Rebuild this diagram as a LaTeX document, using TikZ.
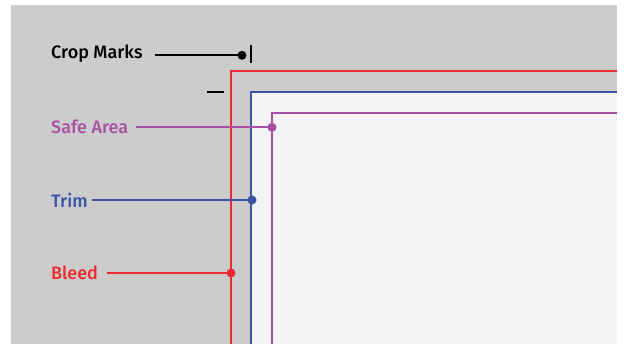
\documentclass[tikz,border=0pt]{standalone}
\usepackage{fontspec}
\setmainfont{Fira Sans}[BoldFont={Fira Sans Medium}]
\definecolor{bgray}{HTML}{CCCCCC}
\definecolor{pagec}{HTML}{F3F3F3}
\definecolor{bleedc}{HTML}{EE2A30}
\definecolor{trimc}{HTML}{3C54A6}
\definecolor{safec}{HTML}{A94FA4}
\tikzset{
  lbl/.style={anchor=west, inner sep=0pt, font=\fontsize{18}{18}\selectfont\bfseries},
  dotc/.style={circle, inner sep=0pt, minimum size=9pt},
  lead/.style={line width=1.7pt},
}
\begin{document}
\begin{tikzpicture}[x=1pt,y=-1pt]
\useasboundingbox (0,0) rectangle (624,344);
\fill[white] (0,0) rectangle (624,344);
\fill[bgray] (11,5) rectangle (617,344);
% page (trim area)
\fill[pagec] (251.3,92.3) rectangle (617,344);
% bleed, trim, safe lines
\draw[draw=bleedc, line width=2pt] (231,344) -- (231,71.3) -- (617,71.3);
\draw[draw=trimc, line width=2pt] (251.3,344) -- (251.3,92.3) -- (617,92.3);
\draw[draw=safec, line width=2pt] (272,344) -- (272,112.7) -- (617,112.7);
% crop marks
\draw[draw=black, line width=1.8pt] (251.3,45) -- (251.3,63);
\draw[draw=black, line width=1.8pt] (207,92.3) -- (224,92.3);
% labels
\node[lbl, text=black] (crop) at (51,54) {Crop Marks};
\node[lbl, text=safec] (safe) at (51,126.5) {Safe Area};
\node[lbl, text=trimc] (trim) at (51,200) {Trim};
\node[lbl, text=bleedc] (bleed) at (51,273) {Bleed};
% dots
\node[dotc, fill=black] (dcrop) at (242,55.3) {};
\node[dotc, fill=safec] (dsafe) at (272,127.3) {};
\node[dotc, fill=trimc] (dtrim) at (252,200) {};
\node[dotc, fill=bleedc] (dbleed) at (231,273) {};
% leaders
\draw[lead, draw=black] (155,55.3) coordinate (c1) -- (dcrop.center);
\draw[lead, draw=safec] (136,127.3) coordinate (s1) -- (dsafe.center);
\draw[lead, draw=trimc] (92,200) coordinate (t1) -- (dtrim.center);
\draw[lead, draw=bleedc] (107,273) coordinate (b1) -- (dbleed.center);
\end{tikzpicture}
\end{document}
